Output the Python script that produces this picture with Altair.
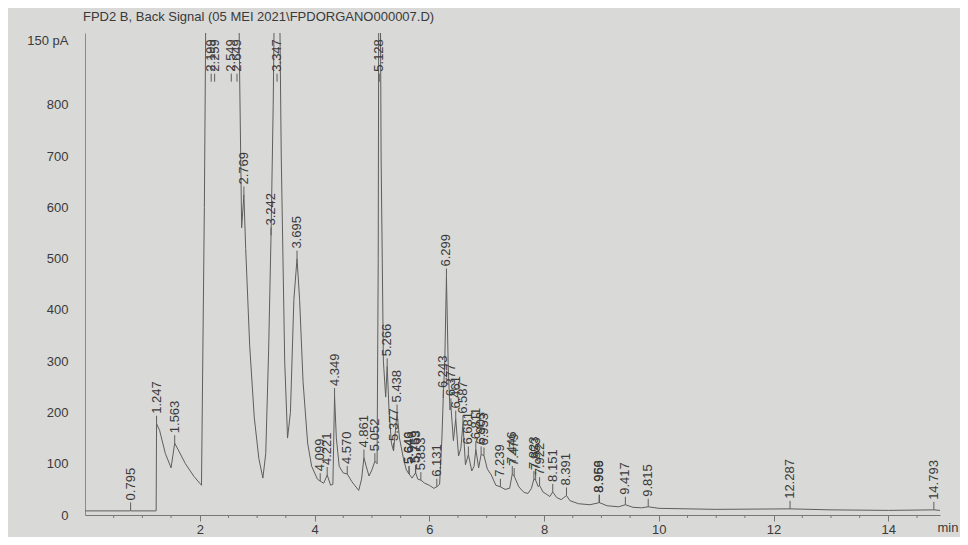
import altair as alt
import pandas as pd

# ---- chromatogram trace (time in min, signal in pA) ----
trace_time = [
    0.00, 0.79, 0.795, 0.80, 1.24, 1.247, 1.30, 1.40, 1.50, 1.563, 1.62, 1.75, 1.90, 2.03,
    2.08, 2.12, 2.199, 2.259, 2.40, 2.549, 2.649, 2.69, 2.73, 2.769, 2.80, 2.87, 2.95, 3.03,
    3.10, 3.15, 3.20, 3.242, 3.28, 3.347, 3.42, 3.48, 3.53, 3.58, 3.64, 3.695, 3.74, 3.80,
    3.88, 3.95, 4.05, 4.099, 4.16, 4.221, 4.28, 4.32, 4.349, 4.38, 4.43, 4.50, 4.570, 4.65,
    4.77, 4.82, 4.861, 4.90, 4.95, 5.00, 5.052, 5.09, 5.11, 5.128, 5.16, 5.20, 5.24, 5.266,
    5.30, 5.34, 5.377, 5.41, 5.438, 5.48, 5.55, 5.60, 5.646, 5.649, 5.70, 5.759, 5.763, 5.80,
    5.853, 5.92, 6.00, 6.08, 6.131, 6.18, 6.22, 6.243, 6.27, 6.299, 6.33, 6.36, 6.377, 6.42,
    6.461, 6.51, 6.55, 6.587, 6.63, 6.681, 6.74, 6.78, 6.811, 6.86, 6.903, 6.953, 7.01, 7.08,
    7.16, 7.239, 7.32, 7.40, 7.446, 7.479, 7.56, 7.65, 7.72, 7.78, 7.823, 7.853, 7.90, 7.922,
    7.98, 8.05, 8.10, 8.151, 8.22, 8.30, 8.391, 8.45, 8.60, 8.80, 8.959, 8.966, 9.10, 9.30,
    9.417, 9.55, 9.70, 9.815, 10.0, 11.0, 12.287, 13.0, 14.0, 14.793, 14.90,
]
trace_signal = [
    8, 8, 9, 8, 8, 178, 165, 120, 92, 140, 128, 100, 75, 58,
    600, 1200, 1500, 1500, 1300, 1500, 1500, 900, 560, 625, 520, 330, 190, 110,
    72, 120, 320, 545, 800, 1500, 700, 300, 150, 200, 420, 500, 420, 260,
    140, 95, 70, 66, 62, 78, 58, 60, 232, 150, 95, 82, 80, 65,
    48, 70, 112, 95, 76, 88, 105, 100, 500, 1500, 700, 300, 230, 290,
    200, 140, 125, 165, 200, 150, 110, 88, 80, 80, 72, 82, 82, 70,
    68, 62, 58, 52, 55, 60, 150, 228, 300, 465, 290, 205, 212, 145,
    188, 115, 130, 178, 98, 118, 86, 95, 128, 92, 118, 116, 90, 78,
    58, 55, 50, 52, 80, 76, 55, 44, 42, 52, 70, 68, 55, 58,
    45, 40, 36, 45, 34, 30, 38, 28, 22, 20, 24, 24, 18, 16,
    20, 15, 14, 16, 13, 11, 12, 10, 9, 10, 9,
]

# ---- integrated peak labels (retention times) ----
peak_labels = [
    "0.795", "1.247", "1.563", "2.199", "2.259", "2.549", "2.649", "2.769", "3.242", "3.347",
    "3.695", "4.099", "4.221", "4.349", "4.570", "4.861", "5.052", "5.128", "5.266", "5.377",
    "5.438", "5.646", "5.649", "5.759", "5.763", "5.853", "6.131", "6.243", "6.299", "6.377",
    "6.461", "6.587", "6.681", "6.811", "6.903", "6.953", "7.239", "7.446", "7.479", "7.823",
    "7.853", "7.922", "8.151", "8.391", "8.959", "8.966", "9.417", "9.815", "12.287", "14.793",
]

# ---- axes ----
y_tick_values = [0, 100, 200, 300, 400, 500, 600, 700, 800, 925]
y_tick_text = ["0", "100", "200", "300", "400", "500", "600", "700", "800", "150 pA"]
x_minor_ticks = [0.5, 1, 1.5, 2.5, 3, 3.5, 4.5, 5, 5.5, 6.5, 7, 7.5, 8.5, 9,
                 9.5, 10.5, 11, 11.5, 12.5, 13, 13.5, 14.5]
x_label_values = [2, 4, 6, 8, 10, 12, 14]

title_text = "FPD2 B, Back Signal (05 MEI 2021\\FPDORGANO000007.D)"

trace_df = pd.DataFrame({"t": trace_time, "s": trace_signal})
lookup = dict(zip(trace_time, trace_signal))
peak_times = [float(p) for p in peak_labels]
peaks_df = pd.DataFrame({
    "t": peak_times,
    "label": peak_labels,
    "h": [lookup[t] for t in peak_times],
})
peaks_df["ly"] = peaks_df["h"].clip(upper=845)
minor_df = pd.DataFrame({"t": x_minor_ticks})


def ternary(values, texts, fallback):
    expr = fallback
    for v, s in reversed(list(zip(values, texts))):
        expr = f"datum.value == {v} ? '{s}' : ({expr})"
    return expr


FONT = "Liberation Sans"
INK = "#3a3a3a"
LINE = "#5e5e5e"

x_scale = alt.Scale(domain=[0, 14.9], nice=False, zero=False)
y_scale = alt.Scale(domain=[0, 940], nice=False)

x_axis = alt.Axis(
    values=x_label_values,
    format="d",
    labelOverlap=False,
    labelFlush=False,
    tickSize=6,
    tickColor="#777777",
    domainColor="#777777",
    labelFont=FONT, labelFontSize=13, labelColor=INK, labelPadding=2,
    grid=False,
    title="min", titleFont=FONT, titleFontSize=13, titleFontWeight="normal",
    titleColor=INK, titleAnchor="end", titleAlign="left", titleX=852, titleY=16,
    titleBaseline="alphabetic",
)
y_axis = alt.Axis(
    values=y_tick_values,
    labelExpr=ternary(y_tick_values, y_tick_text, "datum.label"),
    labelOverlap=False,
    tickSize=0, labelPadding=17,
    domainColor="#8a8a8a",
    labelFont=FONT, labelFontSize=13, labelColor=INK,
    grid=False, title=None,
)

trace = alt.Chart(trace_df).mark_line(
    color=LINE, strokeWidth=1, clip=True, interpolate="linear"
).encode(
    x=alt.X("t:Q", scale=x_scale, axis=x_axis),
    y=alt.Y("s:Q", scale=y_scale, axis=y_axis),
)

minor = alt.Chart(minor_df).mark_rule(
    color="#777777", strokeWidth=1, y2Offset=3
).encode(
    x="t:Q",
    y=alt.datum(0),
    y2=alt.datum(0),
)

ticks = alt.Chart(peaks_df).mark_rule(
    color=LINE, strokeWidth=1, y2Offset=-8
).encode(
    x="t:Q",
    y="ly:Q",
    y2="ly:Q",
)

labels = alt.Chart(peaks_df).mark_text(
    angle=270, align="left", baseline="middle", yOffset=-10,
    font=FONT, fontSize=13, color=INK,
).encode(
    x="t:Q",
    y="ly:Q",
    text="label:N",
)

chart = alt.layer(trace, minor, ticks, labels).properties(
    width=855,
    height=482,
    autosize=alt.AutoSizeParams(type="none"),
    padding={"left": 77, "top": 25, "right": 20, "bottom": 22},
    background="#d9d9d7",
    title=alt.TitleParams(
        title_text, anchor="start", frame="group", font=FONT, fontSize=13,
        fontWeight="normal", color=INK, offset=9, dx=-2,
    ),
).configure_view(stroke=None)

chart.save("out.html", embed_options={"renderer": "svg", "actions": False})
